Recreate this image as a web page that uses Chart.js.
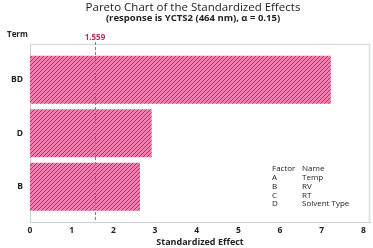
<!DOCTYPE html>
<html>
<head>
<meta charset="utf-8">
<script src="https://cdn.jsdelivr.net/npm/chart.js@4.4.0/dist/chart.umd.min.js"></script>
<style>
  html, body { margin: 0; padding: 0; background: #fff; }
  #wrap { width: 373px; height: 248px; }
</style>
</head>
<body>
<div id="wrap"><canvas id="myChart" width="373" height="248"></canvas></div>
<script>
var terms = ['BD', 'D', 'B'];
var effects = [7.22, 2.92, 2.64];
var xTicks = [0, 1, 2, 3, 4, 5, 6, 7, 8];
var refValue = 1.559;
var factorCodes = ['A', 'B', 'C', 'D'];
var factorNames = ['Temp', 'RV', 'RT', 'Solvent Type'];

var FONT = '"Open Sans", "Noto Sans", sans-serif';

function hatch() {
    var c = document.createElement('canvas');
    c.width = 4; c.height = 4;
    var g = c.getContext('2d');
    g.fillStyle = '#f47fae';
    g.fillRect(0, 0, 4, 4);
    g.strokeStyle = '#7a3a62';
    g.lineWidth = 0.9;
    g.beginPath();
    g.moveTo(0, 4); g.lineTo(4, 0);
    g.moveTo(-1, 1); g.lineTo(1, -1);
    g.moveTo(3, 5); g.lineTo(5, 3);
    g.stroke();
    return g.createPattern(c, 'repeat');
}

var extras = {
    id: 'extras',
    beforeDatasetsDraw: function (chart) {
        var ctx = chart.ctx;
        var a = chart.chartArea;
        ctx.save();
        ctx.strokeStyle = '#d8e0e6';
        ctx.lineWidth = 1.5;
        ctx.beginPath();
        ctx.moveTo(a.left, a.top + 0.5);
        ctx.lineTo(a.right - 0.5, a.top + 0.5);
        ctx.lineTo(a.right - 0.5, a.bottom);
        ctx.stroke();
        ctx.restore();
    },
    afterDraw: function (chart) {
        var ctx = chart.ctx;
        var area = chart.chartArea;
        var x = chart.scales.x;
        ctx.save();
        ctx.fillStyle = '#222';
        ctx.textAlign = 'center';
        ctx.textBaseline = 'middle';
        ctx.font = '11.5px ' + FONT;
        ctx.fillText('Pareto Chart of the Standardized Effects', 193, 8);
        ctx.font = 'bold 9.5px ' + FONT;
        ctx.fillText('(response is YCTS2 (464 nm), \u03b1 = 0.15)', 193, 18);
        ctx.textAlign = 'left';
        ctx.font = 'bold 8px ' + FONT;
        ctx.fillText('Term', 7, 35);

        var px = x.getPixelForValue(refValue);
        ctx.fillStyle = '#b0305e';
        ctx.textAlign = 'center';
        ctx.font = 'bold 8px ' + FONT;
        ctx.fillText(refValue.toFixed(3), px, 38);

        ctx.strokeStyle = '#e0507e';
        ctx.lineWidth = 1;
        ctx.setLineDash([3, 2]);
        ctx.beginPath();
        ctx.moveTo(Math.round(px) + 0.5, 42);
        ctx.lineTo(Math.round(px) + 0.5, area.bottom);
        ctx.stroke();
        ctx.setLineDash([]);

        ctx.fillStyle = '#222';
        ctx.textAlign = 'left';
        ctx.font = '8px ' + FONT;
        ctx.fillText('Factor', 272, 169);
        ctx.fillText('Name', 302, 169);
        for (var i = 0; i < factorCodes.length; i++) {
            ctx.fillText(factorCodes[i], 272, 178 + i * 8.7);
            ctx.fillText(factorNames[i], 302, 178 + i * 8.7);
        }
        ctx.restore();
    }
};

var ctx = document.getElementById('myChart');
var myChart = new Chart(ctx, {
    type: 'bar',
    data: {
        datasets: [{
            label: 'Effect',
            data: effects.map(function (v, i) { return { x: v, y: i }; }),
            backgroundColor: hatch(),
            borderWidth: 0,
            barPercentage: 0.9,
            categoryPercentage: 1
        }]
    },
    plugins: [extras],
    options: {
        indexAxis: 'y',
        responsive: false,
        animation: false,
        layout: { padding: { top: 44, right: 3, left: 0, bottom: 0 } },
        plugins: {
            legend: { display: false },
            tooltip: { enabled: false }
        },
        scales: {
            x: {
                type: 'linear',
                min: 0,
                max: 8.16,
                afterBuildTicks: function (s) {
                    s.ticks = xTicks.map(function (v) { return { value: v }; });
                },
                afterFit: function (s) { s.height = 26; },
                grid: { display: false, drawTicks: false },
                border: { color: '#c8d0d8' },
                ticks: {
                    color: '#222',
                    padding: 3,
                    maxRotation: 0,
                    font: { family: FONT, size: 8.5, weight: 'bold' }
                },
                title: {
                    display: true,
                    text: 'Standardized Effect',
                    color: '#222',
                    padding: { top: 0, bottom: 0 },
                    font: { family: FONT, size: 9, weight: 'bold' }
                }
            },
            y: {
                type: 'linear',
                reverse: true,
                offset: false,
                min: -0.67,
                max: 2.66,
                afterBuildTicks: function (s) {
                    s.ticks = terms.map(function (t, i) { return { value: i }; });
                },
                afterFit: function (s) { s.width = 30; },
                grid: { display: false, drawTicks: false, offset: false },
                border: { color: '#c8d0d8' },
                ticks: {
                    color: '#222',
                    padding: 7,
                    font: { family: FONT, size: 8.5, weight: 'bold' },
                    callback: function (v) { return terms[v]; }
                }
            }
        }
    }
});
</script>
</body>
</html>
